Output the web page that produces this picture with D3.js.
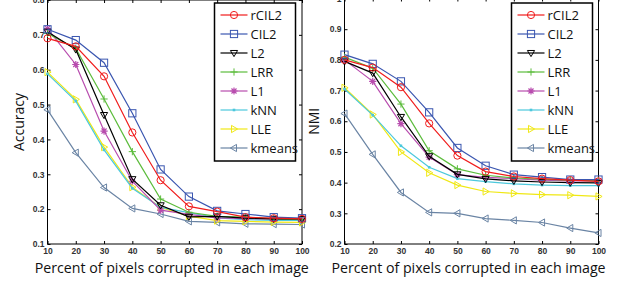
<!DOCTYPE html>
<html>
<head>
<meta charset="utf-8">
<script src="https://cdn.jsdelivr.net/npm/d3@7"></script>
<style>
  body { margin: 0; background: #fff; }
  svg { display: block; }
</style>
</head>
<body>
<svg id="chart" width="618" height="283"></svg>
<script>
// x values (percent corrupted)
var xs = [10, 20, 30, 40, 50, 60, 70, 80, 90, 100];
var methods = ["rCIL2", "CIL2", "L2", "LRR", "L1", "kNN", "LLE", "kmeans"];

// accuracy, left panel
var accRCIL2 = [0.690, 0.667, 0.581, 0.420, 0.283, 0.208, 0.193, 0.177, 0.174, 0.172];
var accCIL2 = [0.716, 0.685, 0.620, 0.475, 0.314, 0.236, 0.195, 0.186, 0.177, 0.174];
var accL2 = [0.709, 0.658, 0.470, 0.286, 0.211, 0.178, 0.179, 0.174, 0.172, 0.172];
var accLRR = [0.704, 0.661, 0.516, 0.365, 0.229, 0.191, 0.179, 0.177, 0.172, 0.170];
var accL1 = [0.718, 0.615, 0.424, 0.280, 0.197, 0.185, 0.175, 0.173, 0.172, 0.172];
var accKNN = [0.588, 0.510, 0.370, 0.260, 0.205, 0.190, 0.175, 0.170, 0.168, 0.168];
var accLLE = [0.593, 0.515, 0.378, 0.263, 0.205, 0.180, 0.167, 0.165, 0.163, 0.162];
var accKmeans = [0.485, 0.362, 0.262, 0.202, 0.186, 0.165, 0.162, 0.158, 0.157, 0.156];

// NMI, right panel
var nmiRCIL2 = [0.800, 0.775, 0.711, 0.593, 0.488, 0.436, 0.420, 0.413, 0.408, 0.404];
var nmiCIL2 = [0.817, 0.787, 0.730, 0.629, 0.513, 0.455, 0.426, 0.418, 0.410, 0.410];
var nmiL2 = [0.795, 0.757, 0.614, 0.486, 0.427, 0.412, 0.406, 0.402, 0.400, 0.399];
var nmiLRR = [0.809, 0.773, 0.656, 0.504, 0.445, 0.424, 0.415, 0.411, 0.408, 0.406];
var nmiL1 = [0.800, 0.730, 0.592, 0.483, 0.426, 0.417, 0.413, 0.408, 0.406, 0.406];
var nmiKNN = [0.705, 0.620, 0.520, 0.450, 0.413, 0.403, 0.396, 0.392, 0.390, 0.390];
var nmiLLE = [0.709, 0.622, 0.500, 0.432, 0.392, 0.371, 0.365, 0.361, 0.359, 0.355];
var nmiKmeans = [0.625, 0.492, 0.368, 0.303, 0.300, 0.283, 0.277, 0.270, 0.252, 0.236];

var accTicks = [0.1, 0.2, 0.3, 0.4, 0.5, 0.6, 0.7, 0.8];
var nmiTicks = [0.2, 0.3, 0.4, 0.5, 0.6, 0.7, 0.8, 0.9, 1];

var colors = ["#f01c1c", "#3a56b0", "#000000", "#5cbc3c", "#b84cae", "#4cc8dc", "#f0e814", "#6a84a4"];
var shapes = ["circle", "square", "tdown", "plus", "star", "dot", "tright", "tleft"];

var svg = d3.select("#chart");

// draw one marker
function marker(g, shape, x, y, c) {
  var s = 3.6;
  if (shape == "circle") {
    g.append("circle").attr("cx", x).attr("cy", y).attr("r", s)
      .attr("fill", "none").attr("stroke", c).attr("stroke-width", 1);
  } else if (shape == "square") {
    g.append("rect").attr("x", x - s).attr("y", y - s).attr("width", 2 * s).attr("height", 2 * s)
      .attr("fill", "none").attr("stroke", c).attr("stroke-width", 1);
  } else if (shape == "tdown") {
    g.append("path").attr("d", "M" + (x - s) + "," + (y - s * 0.7) + "L" + (x + s) + "," + (y - s * 0.7) + "L" + x + "," + (y + s) + "Z")
      .attr("fill", "none").attr("stroke", c).attr("stroke-width", 1);
  } else if (shape == "tright") {
    g.append("path").attr("d", "M" + (x - s * 0.7) + "," + (y - s) + "L" + (x - s * 0.7) + "," + (y + s) + "L" + (x + s) + "," + y + "Z")
      .attr("fill", "none").attr("stroke", c).attr("stroke-width", 1);
  } else if (shape == "tleft") {
    g.append("path").attr("d", "M" + (x + s * 0.7) + "," + (y - s) + "L" + (x + s * 0.7) + "," + (y + s) + "L" + (x - s) + "," + y + "Z")
      .attr("fill", "none").attr("stroke", c).attr("stroke-width", 1);
  } else if (shape == "plus") {
    g.append("path").attr("d", "M" + (x - s) + "," + y + "H" + (x + s) + "M" + x + "," + (y - s) + "V" + (y + s))
      .attr("stroke", c).attr("stroke-width", 1);
  } else if (shape == "star") {
    g.append("path").attr("d", "M" + (x - s) + "," + y + "H" + (x + s) + "M" + x + "," + (y - s) + "V" + (y + s) +
      "M" + (x - s * 0.7) + "," + (y - s * 0.7) + "L" + (x + s * 0.7) + "," + (y + s * 0.7) +
      "M" + (x - s * 0.7) + "," + (y + s * 0.7) + "L" + (x + s * 0.7) + "," + (y - s * 0.7))
      .attr("stroke", c).attr("stroke-width", 1.2);
  } else if (shape == "dot") {
    g.append("rect").attr("x", x - 1.3).attr("y", y - 1.3).attr("width", 2.6).attr("height", 2.6).attr("fill", c);
  }
}

function panel(opt) {
  var x = d3.scaleLinear().domain([10, 100]).range([opt.left, opt.right]);
  var y = d3.scaleLinear().domain(opt.ydom).range([opt.bottom, opt.top]);
  var g = svg.append("g");

  // axes
  var xa = g.append("g").attr("transform", "translate(0," + opt.bottom + ")")
    .call(d3.axisBottom(x).tickValues(xs).tickSize(-3).tickPadding(4).tickFormat(d3.format("d")));
  var ya = g.append("g").attr("transform", "translate(" + opt.left + ",0)")
    .call(d3.axisLeft(y).tickValues(opt.ticks).tickSize(-3).tickPadding(3).tickFormat(function(d) { return d == 1 ? "1" : d3.format(".1f")(d); }));
  g.append("g").attr("transform", "translate(0," + opt.top + ")")
    .call(d3.axisTop(x).tickValues(xs).tickSize(-3).tickFormat(""));
  g.append("g").attr("transform", "translate(" + opt.right + ",0)")
    .call(d3.axisRight(y).tickValues(opt.ticks).tickSize(-3).tickFormat(""));
  g.selectAll(".domain").remove();
  g.selectAll(".tick line").attr("stroke", "#000");
  g.selectAll(".tick text").attr("font-family", "Liberation Sans, Arial, sans-serif")
    .attr("font-size", 8.5).attr("font-weight", "bold").attr("fill", "#333");
  g.append("rect").attr("x", opt.left).attr("y", opt.top).attr("width", opt.right - opt.left)
    .attr("height", opt.bottom - opt.top).attr("fill", "none").attr("stroke", "#000").attr("stroke-width", 1);

  // lines
  var line = d3.line().x(function(d, i) { return x(xs[i]); }).y(function(d) { return y(d); });
  for (var k = opt.series.length - 1; k >= 0; k--) {
    var gs = g.append("g");
    gs.append("path").attr("d", line(opt.series[k])).attr("fill", "none")
      .attr("stroke", colors[k]).attr("stroke-width", 1.2);
    opt.series[k].forEach(function(v, i) { marker(gs, shapes[k], x(xs[i]), y(v), colors[k]); });
  }

  // labels
  g.append("text").attr("x", (opt.left + opt.right) / 2 - 3).attr("y", 273).attr("text-anchor", "middle")
    .attr("font-family", "Open Sans, sans-serif").attr("font-size", 14.2).attr("fill", "#111")
    .text("Percent of pixels corrupted in each image");
  g.append("text").attr("transform", "translate(" + opt.ylabx + "," + ((opt.top + opt.bottom) / 2) + ") rotate(-90)")
    .attr("text-anchor", "middle").attr("font-family", "Open Sans, sans-serif").attr("font-size", 14).attr("fill", "#111")
    .text(opt.ylabel);

  // legend
  var lg = g.append("g");
  lg.append("rect").attr("x", opt.legx).attr("y", 3).attr("width", 81).attr("height", 158)
    .attr("fill", "#fff").attr("stroke", "#000").attr("stroke-width", 1.5);
  methods.forEach(function(m, k) {
    var ly = 15 + k * 19;
    lg.append("line").attr("x1", opt.legx + 6).attr("x2", opt.legx + 33).attr("y1", ly).attr("y2", ly)
      .attr("stroke", colors[k]).attr("stroke-width", 1.2);
    marker(lg, shapes[k], opt.legx + 19.5, ly, colors[k]);
    lg.append("text").attr("x", opt.legx + 36).attr("y", ly + 4.5)
      .attr("font-family", "Open Sans, sans-serif").attr("font-size", 13).attr("fill", "#111").text(m);
  });
}

panel({
  left: 47.5, right: 302, top: 0, bottom: 244,
  ydom: [0.1, 0.8], ticks: accTicks, ylabel: "Accuracy", ylabx: 24, legx: 214.5,
  series: [accRCIL2, accCIL2, accL2, accLRR, accL1, accKNN, accLLE, accKmeans]
});
panel({
  left: 344.5, right: 598.5, top: -1.5, bottom: 244,
  ydom: [0.2, 1], ticks: nmiTicks, ylabel: "NMI", ylabx: 319, legx: 511.5,
  series: [nmiRCIL2, nmiCIL2, nmiL2, nmiLRR, nmiL1, nmiKNN, nmiLLE, nmiKmeans]
});
</script>
</body>
</html>
